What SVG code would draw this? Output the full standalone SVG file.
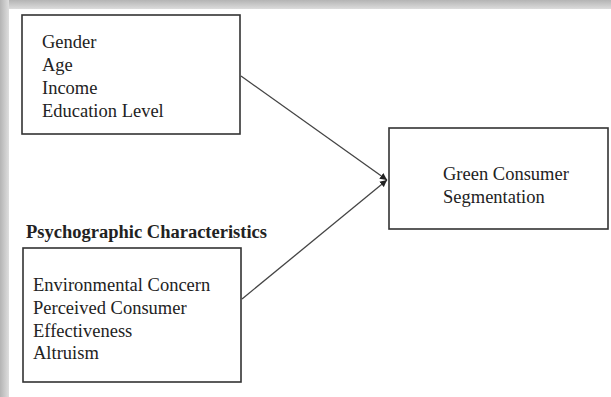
<svg xmlns="http://www.w3.org/2000/svg" width="611" height="397" viewBox="0 0 611 397">
<defs>
<linearGradient id="gt" x1="0" y1="0" x2="0" y2="1"><stop offset="0" stop-color="#b4b4b4"/><stop offset="1" stop-color="#dcdcdc"/></linearGradient>
<linearGradient id="gl" x1="0" y1="0" x2="1" y2="0"><stop offset="0" stop-color="#b4b4b4"/><stop offset="1" stop-color="#dedede"/></linearGradient>
<marker id="ah" markerWidth="8" markerHeight="8" refX="7" refY="4" orient="auto" markerUnits="userSpaceOnUse"><path d="M0,0.5 L7,4 L0,7.5 Z" fill="#222"/></marker>
<style>
.box{fill:#fff;stroke:#333;stroke-width:1.6}
.t{font-family:"Liberation Serif","Times New Roman",serif;font-size:18.5px;fill:#222}
.b{font-weight:bold}
.c{stroke:#444;stroke-width:1.3;fill:none}
</style>
</defs>
<rect width="611" height="397" fill="#fff"/>
<rect x="0" y="0" width="611" height="9" fill="url(#gt)"/>
<rect x="0" y="0" width="9" height="397" fill="url(#gl)"/>
<g id="demographic">
<rect class="box" x="22" y="15" width="218" height="119"/>
<text class="t" x="42" y="48">Gender</text>
<text class="t" x="42" y="71">Age</text>
<text class="t" x="42" y="94">Income</text>
<text class="t" x="42" y="117">Education Level</text>
</g>
<g id="psychographic">
<text class="t b" x="26" y="238">Psychographic Characteristics</text>
<rect class="box" x="23" y="248" width="218" height="134"/>
<text class="t" x="33" y="291">Environmental Concern</text>
<text class="t" x="33" y="314">Perceived Consumer</text>
<text class="t" x="33" y="337">Effectiveness</text>
<text class="t" x="33" y="359">Altruism</text>
</g>
<g id="segmentation">
<rect class="box" x="389" y="128" width="219" height="101"/>
<text class="t" x="443" y="180">Green Consumer</text>
<text class="t" x="443" y="203">Segmentation</text>
</g>
<g id="connectors">
<line class="c" x1="241" y1="76" x2="387" y2="180" marker-end="url(#ah)"/>
<line class="c" x1="242" y1="299" x2="387" y2="180" marker-end="url(#ah)"/>
</g>
</svg>
